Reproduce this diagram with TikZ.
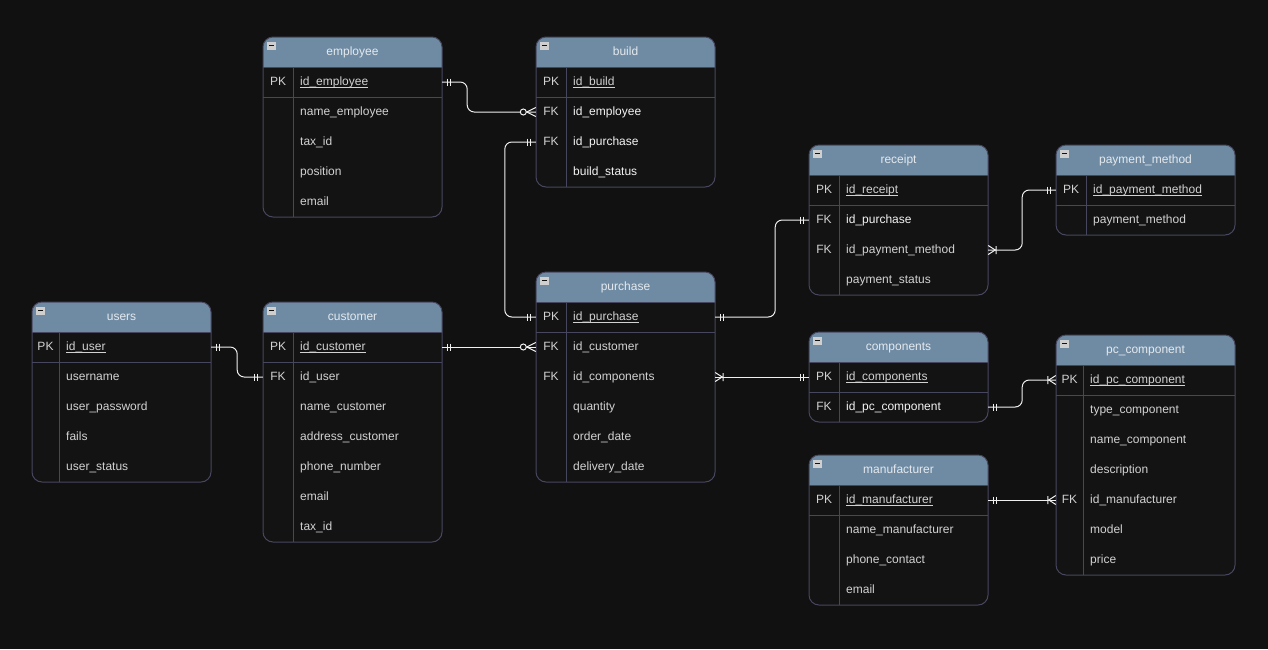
\documentclass[tikz,border=0pt]{standalone}
\usepackage{fontspec}
\setmainfont{Liberation Sans}

\definecolor{canvas}{HTML}{111111}
\definecolor{bodycol}{HTML}{131313}
\definecolor{framecol}{HTML}{46465F}
\definecolor{headcol}{HTML}{6F8BA3}
\definecolor{headtextcol}{HTML}{E4E9EE}
\definecolor{textcol}{HTML}{D2D2D2}
\definecolor{brightcol}{HTML}{F4F4F4}
\definecolor{iconcol}{HTML}{CFCFCF}
\definecolor{linkcol}{HTML}{F0F0F0}

% primary-key underline sitting at the underscore level
\newcommand{\pkline}[1]{\setbox0\hbox{#1}\rlap{\rule[-2.3pt]{\wd0}{0.7pt}}\box0}

\tikzset{
  bodyfill/.style={fill=bodycol},
  headfill/.style={fill=headcol},
  frame/.style={draw=framecol, line width=1pt},
  gridline/.style={draw=framecol, line width=1pt},
  rowbox/.style={minimum width=179pt, minimum height=30pt, inner sep=0pt},
  headtext/.style={text=headtextcol, inner sep=0pt, text height=8.6pt, text depth=0pt,
    font=\fontsize{12}{14}\selectfont},
  keytext/.style={text=textcol, inner sep=0pt, text height=8.6pt, text depth=0pt,
    font=\fontsize{12}{14}\selectfont},
  fieldtext/.style={anchor=west, text=textcol, inner sep=0pt, text height=8.6pt, text depth=0pt,
    font=\fontsize{12}{14}\selectfont},
  fn/.style={},
  fb/.style={text=brightcol},
  iconbox/.style={fill=iconcol, minimum width=9pt, minimum height=8pt, inner sep=0pt,
    text=canvas},
  rel/.style={draw=linkcol, line width=1pt},
  link/.style={rel, rounded corners=7pt},
  mone/.pic={\draw[rel] (5,-3.5) -- (5,3.5) (8,-3.5) -- (8,3.5);},
  zmany/.pic={\draw[rel] (0,-4.5) -- (9,0) -- (0,4.5);
              \draw[rel, fill=canvas] (12.5,0) circle[radius=3];},
  omany/.pic={\draw[rel] (0,-4.5) -- (7,0) -- (0,4.5) (8,-4) -- (8,4);},
}

% \ertable{id}{left}{top}{rows}{key column width}{title}{key/field/style,...}
\newcommand{\ertable}[7]{%
  \fill[bodyfill, rounded corners=10pt] (#2,#3) rectangle ++(179,30+30*#4);
  \begin{scope}
    \clip (#2,#3) rectangle ++(179,30);
    \fill[headfill, rounded corners=10pt] (#2,#3) rectangle ++(179,60);
  \end{scope}
  \draw[gridline] (#2,#3+30) -- ++(179,0) (#2,#3+60) -- ++(179,0)
                  (#2+#5,#3+30) -- ++(0,30*#4);
  \draw[frame, rounded corners=10pt] (#2,#3) rectangle ++(179,30+30*#4);
  \node[headtext] (#1) at (#2+89.5,#3+14) {#6};
  \node[iconbox] (#1-icon) at (#2+8.7,#3+8.7) {\rule{4.5pt}{1.4pt}};
  \foreach[count=\i] \k/\f/\s in {#7} {
    \node[rowbox] (#1-\i) at (#2+89.5,#3+15+30*\i) {};
    \node[keytext] (#1-\i-k) at (#2+#5/2,#3+14+30*\i) {\k};
    \node[fieldtext,\s] (#1-\i-f) at (#2+#5+7,#3+14+30*\i) {\f};
  }%
}

\begin{document}
\begin{tikzpicture}[x=1pt, y=-1pt]
  \fill[canvas] (0,0) rectangle (1268,649);
  \useasboundingbox (0,0) rectangle (1268,649);

  \ertable{employee}{263}{37}{5}{30}{employee}{PK/\pkline{id\_employee}/fn,
    /name\_employee/fn, /tax\_id/fn, /position/fn, /email/fn}
  \ertable{build}{536}{37}{4}{30}{build}{PK/\pkline{id\_build}/fn,
    FK/id\_employee/fb, FK/id\_purchase/fb, /build\_status/fb}
  \ertable{receipt}{809}{145}{4}{30}{receipt}{PK/\pkline{id\_receipt}/fn,
    FK/id\_purchase/fb, FK/id\_payment\_method/fn, /payment\_status/fn}
  \ertable{payment}{1056}{145}{2}{30}{payment\_method}{PK/\pkline{id\_payment\_method}/fn,
    /payment\_method/fn}
  \ertable{users}{32}{302}{5}{27}{users}{PK/\pkline{id\_user}/fn,
    /username/fn, /user\_password/fn, /fails/fn, /user\_status/fn}
  \ertable{customer}{263}{302}{7}{30}{customer}{PK/\pkline{id\_customer}/fn,
    FK/id\_user/fn, /name\_customer/fn, /address\_customer/fn, /phone\_number/fn,
    /email/fn, /tax\_id/fn}
  \ertable{purchase}{536}{272}{6}{30}{purchase}{PK/\pkline{id\_purchase}/fn,
    FK/id\_customer/fn, FK/id\_components/fn, /quantity/fn, /order\_date/fn,
    /delivery\_date/fn}
  \ertable{components}{809}{332}{2}{30}{components}{PK/\pkline{id\_components}/fn,
    FK/id\_pc\_component/fb}
  \ertable{manufacturer}{809}{455}{4}{30}{manufacturer}{PK/\pkline{id\_manufacturer}/fn,
    /name\_manufacturer/fn, /phone\_contact/fn, /email/fn}
  \ertable{pccomp}{1056}{335}{7}{27}{pc\_component}{PK/\pkline{id\_pc\_component}/fn,
    /type\_component/fn, /name\_component/fn, /description/fn,
    FK/id\_manufacturer/fn, /model/fn, /price/fn}

  % relationships
  \draw[link] (employee-1.east) -- ++(25,0) |- (build-2.west);
  \path (employee-1.east) pic {mone} (build-2.west) pic[xscale=-1] {zmany};

  \draw[link] (build-3.west) -- ++(-31,0) |- (purchase-1.west);
  \path (build-3.west) pic[xscale=-1] {mone} (purchase-1.west) pic[xscale=-1] {mone};

  \draw[link] (purchase-1.east) -- ++(60,0) |- (receipt-2.west);
  \path (purchase-1.east) pic {mone} (receipt-2.west) pic[xscale=-1] {mone};

  \draw[link] (receipt-3.east) -- ++(34,0) |- (payment-1.west);
  \path (receipt-3.east) pic {omany} (payment-1.west) pic[xscale=-1] {mone};

  \draw[link] (users-1.east) -- ++(26,0) |- (customer-2.west);
  \path (users-1.east) pic {mone} (customer-2.west) pic[xscale=-1] {mone};

  \draw[link] (customer-1.east) -- (purchase-2.west);
  \path (customer-1.east) pic {mone} (purchase-2.west) pic[xscale=-1] {zmany};

  \draw[link] (purchase-3.east) -- (components-1.west);
  \path (purchase-3.east) pic {omany} (components-1.west) pic[xscale=-1] {mone};

  \draw[link] (components-2.east) -- ++(34,0) |- (pccomp-1.west);
  \path (components-2.east) pic {mone} (pccomp-1.west) pic[xscale=-1] {omany};

  \draw[link] (manufacturer-1.east) -- (pccomp-5.west);
  \path (manufacturer-1.east) pic {mone} (pccomp-5.west) pic[xscale=-1] {omany};
\end{tikzpicture}
\end{document}
